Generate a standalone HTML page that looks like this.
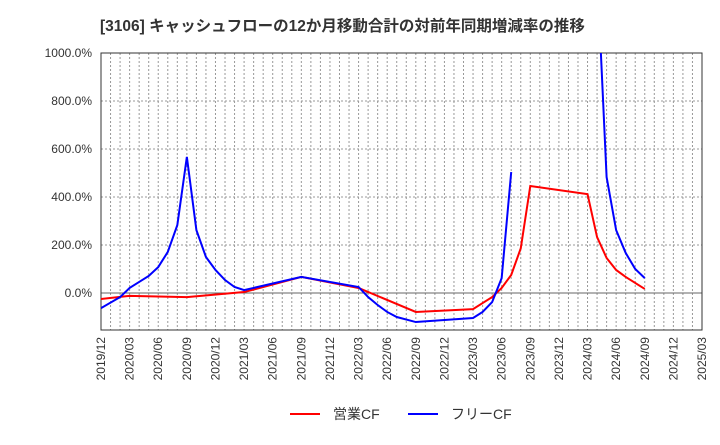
<!DOCTYPE html>
<html><head><meta charset="utf-8"><style>
body{margin:0;background:#fff;font-family:"Liberation Sans","Noto Sans CJK JP",sans-serif}
</style></head><body>
<svg id="c" width="720" height="440" xmlns="http://www.w3.org/2000/svg" font-family="Liberation Sans, Noto Sans CJK JP, sans-serif">
<text x="100" y="31" font-size="15.5" font-weight="bold" fill="#333">[3106]  キャッシュフローの12か月移動合計の対前年同期増減率の推移</text>
<defs><clipPath id="pc"><rect x="101" y="53" width="601" height="277"/></clipPath></defs>
<g id="grid"></g><g id="axes"></g><g id="series" clip-path="url(#pc)"></g>
<g>
<line x1="290" y1="414" x2="320" y2="414" stroke="#f00" stroke-width="2"/>
<text x="333" y="419" font-size="14" fill="#333">営業CF</text>
<line x1="408" y1="414" x2="438" y2="414" stroke="#00f" stroke-width="2"/>
<text x="451" y="419" font-size="14" fill="#333">フリーCF</text>
</g>
</svg>
<script>
const yTicks=[0,200,400,600,800,1000];
const xLabels=["2019/12","2020/03","2020/06","2020/09","2020/12","2021/03","2021/06","2021/09","2021/12","2022/03","2022/06","2022/09","2022/12","2023/03","2023/06","2023/09","2023/12","2024/03","2024/06","2024/09","2024/12","2025/03"];
const redMonths=[0,3,9,15,21,27,33,39,40,41,42,43,44,45,51,52,53,54,55,56,57];
const redValues=[-25,-12,-17,4,67,21,-79,-67,-42,-17,21,75,186,446,412,233,146,96,67,42,17];
const blueMonths1=[0,2,3,4,5,6,7,8,9,10,11,12,13,14,15,21,27,28,29,30,31,33,39,40,41,42,43];
const blueValues1=[-63,-17,21,46,71,108,171,283,567,262,150,96,54,25,12,67,25,-17,-50,-79,-100,-121,-104,-79,-38,62,504];
const blueMonths2=[52,53,54,55,56,57];
const blueValues2=[1345,483,262,167,100,62];
const X0=101,X1=702,Y0=293,PX=0.24;
const xm=m=>X0+m*(X1-X0)/63;
const yv=v=>Y0-v*PX;
const NS="http://www.w3.org/2000/svg";
function mk(t,a,p){const e=document.createElementNS(NS,t);for(const k in a)e.setAttribute(k,a[k]);p.appendChild(e);return e;}
const g=document.getElementById('grid'),ax=document.getElementById('axes'),s=document.getElementById('series');
for(let m=1;m<63;m++){const l=mk('line',{x1:xm(m),x2:xm(m),y1:53,y2:330,stroke:'#999','stroke-dasharray':'2,2','stroke-width':1},g);

}
yTicks.forEach(v=>{const y=yv(v);
const l=mk('line',{x1:X0,x2:X1,y1:y,y2:y,stroke:v===0?'#666':'#999','stroke-dasharray':v===0?'':'2,2','stroke-width':1},g);


const t=mk('text',{x:92,y:y+4,'text-anchor':'end','font-size':12,fill:'#333'},ax);t.textContent=v.toFixed(1)+'%';

});
xLabels.forEach((lb,i)=>{const x=xm(i*3);
const t=mk('text',{x:x+4,y:337,'text-anchor':'end','font-size':12,fill:'#333',transform:`rotate(-90 ${x+4} 337)`},ax);t.textContent=lb;

});
const fr=mk('rect',{x:X0,y:53,width:X1-X0,height:277,fill:'none',stroke:'#333','stroke-width':1},ax);


function line(ms,vs,c,name){const p=mk('polyline',{points:ms.map((m,i)=>xm(m)+','+yv(vs[i])).join(' '),fill:'none',stroke:c,'stroke-width':2},s);

}
line(redMonths,redValues,'#f00','operating-cf-line');
line(blueMonths1,blueValues1,'#00f','free-cf-line-1');
line(blueMonths2,blueValues2,'#00f','free-cf-line-2');
</script>
</body></html>
